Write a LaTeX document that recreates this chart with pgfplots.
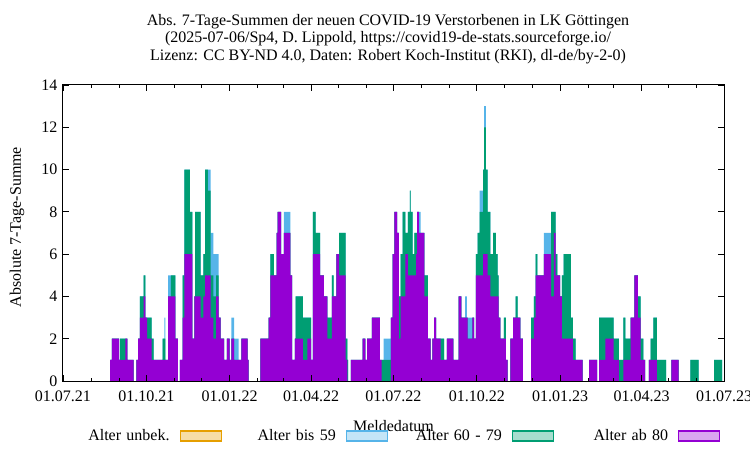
\documentclass[border=0pt]{standalone}
\usepackage{fontspec}
\setmainfont{Liberation Serif}
\usepackage{pgfplots}
\usepackage{pgfplotstable}
\pgfplotsset{compat=1.18}
\definecolor{cP}{HTML}{9400D3}
\definecolor{cG}{HTML}{009E73}
\definecolor{cB}{HTML}{56B4E9}
\definecolor{cO}{HTML}{E69F00}
% d = days since 01.07.21 (start of a run), P = Alter ab 80, G = 60-79, B = bis 59
\pgfplotstableread{
d P G B
0 0 0 0
52 1 0 0
54 2 0 0
62 1 0 0
63 1 1 0
69 2 0 0
71 1 0 0
78 0 0 0
81 1 0 0
83 2 0 0
85 3 1 0
89 4 1 0
91 3 0 0
93 2 1 0
98 1 1 0
100 1 0 0
110 1 1 0
112 1 1 1
113 1 0 0
116 4 0 1
119 4 1 0
124 2 0 0
127 0 0 0
129 1 0 0
132 3 2 0
134 6 4 0
140 6 2 0
143 2 0 0
145 4 0 0
146 4 4 0
152 3 2 0
155 4 2 0
157 5 5 0
160 5 4 1
163 3 2 2
166 2 2 2
169 4 1 1
172 3 0 0
174 2 0 0
178 1 0 0
181 2 0 0
184 1 0 0
186 2 0 1
189 1 0 1
194 1 0 0
197 2 0 0
204 1 0 0
205 0 0 0
218 2 0 0
227 3 0 0
229 5 1 0
233 5 0 0
236 7 0 0
237 8 0 0
241 6 0 0
244 7 0 1
251 5 0 0
253 1 0 0
256 2 0 0
257 2 2 0
265 1 2 0
270 2 1 0
274 1 0 0
276 6 2 0
279 6 1 0
284 5 0 0
288 4 0 0
292 2 1 0
297 4 1 0
299 4 0 0
302 6 0 0
305 5 2 0
312 1 1 0
314 0 1 0
315 0 0 0
318 1 0 0
331 2 0 0
334 1 0 0
336 2 0 0
341 3 0 0
350 1 0 0
352 0 1 0
354 0 1 1
362 3 0 0
364 6 0 0
366 8 0 0
369 7 0 0
371 2 2 0
373 4 2 0
375 4 4 0
378 6 1 0
381 5 3 0
383 5 4 0
384 5 3 0
386 5 1 0
388 5 2 0
390 6 1 0
391 8 0 0
393 7 0 1
395 7 0 0
399 4 1 0
403 2 0 0
406 1 0 0
408 2 0 0
410 3 0 0
412 2 0 0
417 1 1 0
421 1 0 0
424 2 0 0
431 1 0 0
437 4 0 0
440 3 0 0
444 3 0 1
446 3 0 0
447 2 0 1
452 3 0 0
454 2 0 0
456 5 1 0
458 5 2 0
460 5 3 1
464 6 4 0
465 6 6 1
467 6 4 0
469 5 3 0
472 4 2 0
475 4 3 0
478 4 2 0
480 4 1 0
481 3 0 0
483 2 0 0
487 2 1 0
489 1 0 0
491 0 0 0
494 2 0 0
497 3 0 0
500 3 1 0
502 3 0 0
505 2 0 0
508 0 0 0
517 2 1 0
520 3 1 0
522 5 1 0
524 5 0 0
531 6 0 1
539 4 4 0
542 7 1 0
544 5 1 0
546 5 0 0
549 4 0 0
551 2 3 0
553 2 4 0
561 2 1 0
563 1 1 0
566 1 0 0
574 0 0 0
581 1 0 0
590 0 0 0
592 1 2 0
599 2 1 0
608 1 1 0
614 0 1 0
619 1 2 0
621 1 1 0
627 3 0 0
631 5 0 0
635 3 1 0
638 1 1 0
641 1 0 0
643 0 0 0
647 1 0 0
649 1 1 0
652 1 2 0
656 0 1 0
666 0 0 0
672 1 0 0
680 0 0 0
693 0 1 0
702 0 0 0
719 0 1 0
728 0 0 0
730 0 0 0
}\data
\begin{document}
\begin{tikzpicture}
\path[use as bounding box] (-63pt,-69pt) rectangle (687pt,381pt);
\begin{axis}[
  at={(0pt,0pt)}, anchor=south west,
  scale only axis, width=661pt, height=296pt,
  xmin=0, xmax=730, ymin=0, ymax=14,
  axis on top,
  font=\fontsize{16}{18}\selectfont,
  /pgf/number format/assume math mode=true,
  xtick={0,92,184,274,365,457,549,639,730},
  xticklabels={01.07.21,01.10.21,01.01.22,01.04.22,01.07.22,01.10.22,01.01.23,01.04.23,01.07.23},
  minor xtick={31,62,123,153,215,243,304,335,396,427,488,518,580,608,669,700},
  ytick={0,2,...,14},
  tick align=inside, tick pos=both,
  major tick length=6pt, minor tick length=3.5pt,
  every tick/.style={black, line width=0.8pt},
  axis line style={line width=1pt},
  xticklabel style={yshift=-6pt},
  yticklabel style={xshift=-2pt},
  xlabel={Meldedatum},
  xlabel style={at={(axis description cs:0.5,-0.153)}, anchor=center},
  ylabel={Absolute 7-Tage-Summe},
  ylabel style={at={(axis description cs:-0.0696,0.52)}, anchor=center, rotate=0},
  title={Abs. 7-Tage-Summen der neuen COVID-19 Verstorbenen in LK Göttingen\\(2025-07-06/Sp4, D. Lippold, https://covid19-de-stats.sourceforge.io/\\Lizenz: CC BY-ND 4.0, Daten: Robert Koch-Institut (RKI), dl-de/by-2-0)},
  title style={at={(axis description cs:0.4917,1)}, anchor=south, yshift=15pt, align=center, inner sep=0pt, font=\fontsize{16}{17.5}\selectfont},
  legend columns=4,
  legend plot pos=right,
  legend image code/.code={\draw[#1] (0pt,-5pt) rectangle (41pt,5pt);},
  legend style={at={(0.5098,-0.186)}, anchor=center, draw=none, fill=none,
    font=\fontsize{16}{18}\selectfont,
    nodes={inner sep=0pt, text width=90pt, align=right},
    /tikz/every odd column/.style={column sep=10pt},
    /tikz/every even column/.style={column sep=24pt}},
]
\addplot[forget plot, fill=cB, draw=none, const plot] table[x=d, y expr=\thisrow{P}+\thisrow{G}+\thisrow{B}] {\data} \closedcycle;
\addplot[forget plot, fill=cG, draw=none, const plot] table[x=d, y expr=\thisrow{P}+\thisrow{G}] {\data} \closedcycle;
\addplot[forget plot, fill=cP, draw=none, const plot] table[x=d, y=P] {\data} \closedcycle;
\addlegendimage{draw=cO, fill=cO!35, line width=1.2pt}
\addlegendentry{Alter unbek.}
\addlegendimage{draw=cB, fill=cB!35, line width=1.2pt}
\addlegendentry{Alter bis 59}
\addlegendimage{draw=cG, fill=cG!35, line width=1.2pt}
\addlegendentry{Alter 60 - 79}
\addlegendimage{draw=cP, fill=cP!35, line width=1.2pt}
\addlegendentry{Alter ab 80}
\end{axis}
\end{tikzpicture}
\end{document}
